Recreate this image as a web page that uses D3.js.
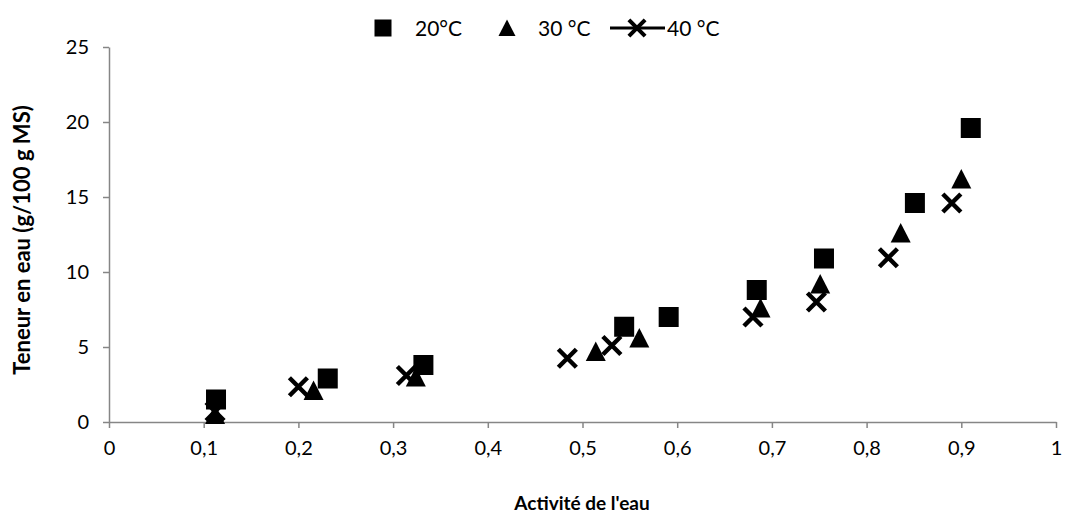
<!DOCTYPE html>
<html>
<head>
<meta charset="utf-8">
<script src="https://cdn.jsdelivr.net/npm/d3@7"></script>
<style>
    body { margin: 0; background: #fff; }
    text { font-family: Lato, "Open Sans", sans-serif; fill: #000; }
    .axis path, .axis line { stroke: #868686; stroke-width: 1.5; }
    .axis text { font-size: 20px; }
    .title { font-weight: bold; }
</style>
</head>
<body>
<div id="chart"></div>
<script>
// water activity / water content, one pair of arrays per temperature
var aw20 = [0.113, 0.231, 0.332, 0.544, 0.591, 0.684, 0.755, 0.851, 0.910];
var w20  = [1.5, 2.9, 3.8, 6.35, 7.0, 8.8, 10.9, 14.6, 19.6];
var aw30 = [0.112, 0.216, 0.324, 0.514, 0.560, 0.688, 0.751, 0.836, 0.900];
var w30  = [0.5, 2.1, 3.0, 4.7, 5.6, 7.6, 9.2, 12.6, 16.2];
var aw40 = [0.112, 0.200, 0.314, 0.484, 0.531, 0.680, 0.747, 0.823, 0.890];
var w40  = [0.7, 2.35, 3.1, 4.25, 5.1, 7.0, 8.0, 10.95, 14.6];

var xTicks = [0, 0.1, 0.2, 0.3, 0.4, 0.5, 0.6, 0.7, 0.8, 0.9, 1];
var yTicks = [0, 5, 10, 15, 20, 25];
var seriesNames = ["20°C", "30 °C", "40 °C"];

function init() {
    var w = 1066;
    var h = 530;
    var left = 109, right = 1056, top = 47, bottom = 422;

    var svg = d3.select("#chart")
        .append("svg")
        .attr("width", w)
        .attr("height", h);

    var xScale = d3.scaleLinear().domain([0, 1]).range([left, right]);
    var yScale = d3.scaleLinear().domain([0, 25]).range([bottom, top]);

    var fmt = function(d) { return String(d).replace(".", ","); };

    var xAxis = d3.axisBottom(xScale)
        .tickValues(xTicks)
        .tickSize(6)
        .tickSizeOuter(0)
        .tickPadding(13)
        .tickFormat(fmt);

    var yAxis = d3.axisLeft(yScale)
        .tickValues(yTicks)
        .tickSize(6)
        .tickSizeOuter(0)
        .tickPadding(14);

    svg.append("g")
        .attr("class", "axis")
        .attr("transform", "translate(0," + bottom + ")")
        .call(xAxis);

    svg.append("g")
        .attr("class", "axis")
        .attr("transform", "translate(" + left + ",0)")
        .call(yAxis);

    // marker shapes
    function square(g) {
        g.append("rect").attr("x", -10).attr("y", -10)
            .attr("width", 20).attr("height", 20).attr("fill", "#000");
    }
    function triangle(g) {
        g.append("path").attr("d", "M0,-10L10,9.5L-10,9.5Z").attr("fill", "#000");
    }
    function cross(g) {
        g.append("path").attr("d", "M-9,-9L9,9M-9,9L9,-9")
            .attr("stroke", "#000").attr("stroke-width", 4.5).attr("fill", "none");
    }

    function plotSeries(xs, ys, marker) {
        svg.append("g")
            .selectAll("g")
            .data(xs)
            .enter()
            .append("g")
            .attr("transform", function(d, i) {
                return "translate(" + xScale(d) + "," + yScale(ys[i]) + ")";
            })
            .each(function() { marker(d3.select(this)); });
    }

    plotSeries(aw20, w20, square);
    plotSeries(aw30, w30, triangle);
    plotSeries(aw40, w40, cross);

    // legend
    var legend = svg.append("g").attr("transform", "translate(0,28)");
    var l1 = legend.append("g").attr("transform", "translate(383,0) scale(0.85)");
    square(l1);
    legend.append("text").attr("x", 415).attr("y", 7.5).attr("font-size", 21).text(seriesNames[0]);
    var l2 = legend.append("g").attr("transform", "translate(507,0) scale(0.85)");
    triangle(l2);
    legend.append("text").attr("x", 538).attr("y", 7.5).attr("font-size", 21).text(seriesNames[1]);
    legend.append("line").attr("x1", 610).attr("x2", 665).attr("y1", 0).attr("y2", 0)
        .attr("stroke", "#000").attr("stroke-width", 3);
    var l3 = legend.append("g").attr("transform", "translate(637,0) scale(0.9)");
    cross(l3);
    legend.append("text").attr("x", 667).attr("y", 7.5).attr("font-size", 21).text(seriesNames[2]);

    // axis titles
    svg.append("text")
        .attr("class", "title")
        .attr("x", 582)
        .attr("y", 510)
        .attr("font-size", 19)
        .attr("text-anchor", "middle")
        .text("Activité de l'eau");

    svg.append("text")
        .attr("class", "title")
        .attr("font-size", 22)
        .attr("transform", "translate(30," + 240 + ") rotate(-90)")
        .attr("text-anchor", "middle")
        .text("Teneur en eau (g/100 g MS)");
}

window.onload = init;
</script>
</body>
</html>
